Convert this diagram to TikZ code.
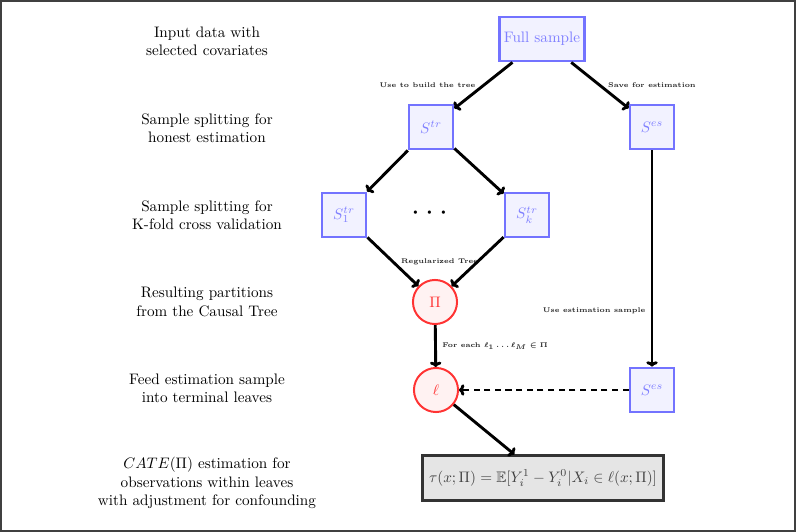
\documentclass[tikz,border=0pt]{standalone}
\usepackage{amsmath,amssymb}
\usetikzlibrary{arrows.meta}
\begin{document}
\begin{tikzpicture}[x=0.6579pt,y=-0.6579pt,
 sbox/.style={draw=blue!55, fill=blue!5, text=blue!50, line width=1.8pt, minimum width=29pt, minimum height=29pt, inner sep=3pt},
 leaf/.style={circle, draw=red!80, fill=red!5, text=red!80, line width=1.3pt, minimum size=29pt, inner sep=0pt},
 tbox/.style={draw=black!80, fill=black!10, text=black!75, line width=2pt, minimum height=29pt, inner sep=4pt},
 lbl/.style={align=center, text=black},
 elab/.style={font=\tiny\bfseries, inner sep=2pt, text=black!85, scale=0.9, transform shape},
 belab/.style={elab, font=\tiny\bfseries\boldmath},
 arr/.style={-{To[length=3.5pt,width=7.5pt]}, line width=1.9pt}]
\useasboundingbox (0,0) rectangle (796,532);
\draw[line width=1.2pt, black!75] (1,1) rectangle (795,531);

\node[sbox] (full) at (542,39) {Full sample};
\node[sbox] (str) at (431,127) {$S^{tr}$};
\node[sbox] (ses) at (652,127) {$S^{es}$};
\node[sbox] (s1) at (344,215) {$S^{tr}_1$};
\node (dots) at (433,213) {\huge$\cdots$};
\node[sbox] (sk) at (527,215) {$S^{tr}_k$};
\node[leaf] (pi) at (435,302) {$\Pi$};
\node[leaf] (ell) at (436,390) {$\ell$};
\node[sbox] (ses2) at (652,390) {$S^{es}$};
\node[tbox] (tau) at (543,478) {$\tau(x;\Pi) = \mathbb{E}[Y_i^1 - Y_i^0 | X_i \in \ell(x;\Pi)]$};

\node[lbl] (l1) at (207,41) {Input data with\\selected covariates};
\node[lbl] (l2) at (207,128) {Sample splitting for\\honest estimation};
\node[lbl] (l3) at (207,215) {Sample splitting for\\K-fold cross validation};
\node[lbl] (l4) at (207,302) {Resulting partitions\\from the Causal Tree};
\node[lbl] (l5) at (207,388) {Feed estimation sample\\into terminal leaves};
\node[lbl] (l6) at (207,483) {$CATE(\Pi)$ estimation for\\observations within leaves\\with adjustment for confounding};

\draw[arr] (full) -- node[elab, midway, left, xshift=-3pt]{Use to build the tree} (str);
\draw[arr] (full) -- node[elab, midway, right, xshift=3pt]{Save for estimation} (ses);
\draw[arr] (str) -- (s1);
\draw[arr] (str) -- (sk);
\draw[arr] (s1) -- node[elab, midway, right, xshift=3pt]{Regularized Tree} (pi);
\draw[arr] (sk) -- (pi);
\draw[arr] (ses) -- node[elab, pos=0.74, left, xshift=-2pt]{Use estimation sample} (ses2);
\draw[arr] (pi) -- node[belab, midway, right, xshift=2pt]{For each $\ell_1 \dots \ell_M \in \Pi$} (ell);
\draw[arr, dash pattern=on 4pt off 3pt] (ses2) -- (ell);
\draw[arr] (ell) -- (tau);
\end{tikzpicture}
\end{document}
